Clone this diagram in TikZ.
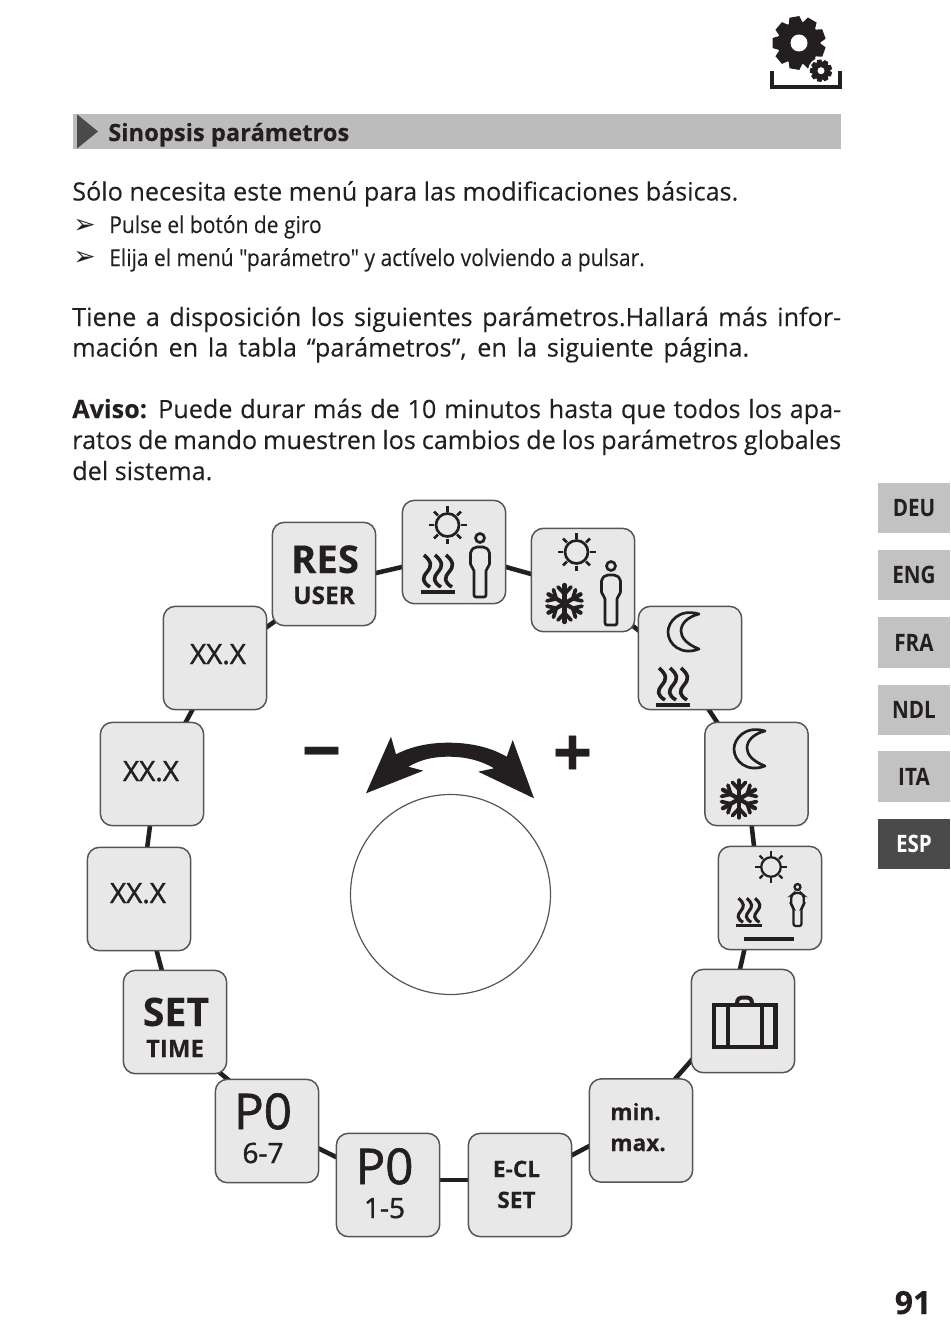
\documentclass[tikz,border=0pt]{standalone}
\usepackage{fontspec}
\usetikzlibrary{backgrounds}
\setmainfont{Open Sans}[FakeBold=0.12]
\newfontfamily\narrowf[FakeStretch=0.9,FakeBold=0.12]{Open Sans}
\newfontfamily\condf[FakeStretch=0.86]{Open Sans}
\newfontfamily\medf[FakeBold=1.3]{Open Sans}
\newfontfamily\symf{DejaVu Sans}
\definecolor{ink}{HTML}{231F20}
\definecolor{boxfill}{HTML}{E8E8E8}
\definecolor{boxline}{HTML}{555555}
\definecolor{tabgrey}{HTML}{C2C2C2}
\definecolor{bargrey}{HTML}{BCBCBC}
\definecolor{tabdark}{HTML}{4A4A4A}
\newcommand\jline[1]{\makebox[576.75pt][s]{#1}}
\def\iw{2pt}
\tikzset{
  box/.style={draw=boxline,line width=1.1pt,fill=boxfill,rounded corners=9pt,minimum size=77.5pt,inner sep=0pt},
  link/.style={draw=ink,line width=3.4pt,shorten <=-3pt,shorten >=-3pt},
  txt/.style={anchor=base west,inner sep=0pt,text=ink},
  blab/.style={anchor=base,inner sep=0pt,text=ink},
  tab/.style={fill=tabgrey,minimum width=54pt,minimum height=38pt,inner sep=0pt,text=ink,font=\condf\fontsize{18pt}{18pt}\selectfont\bfseries},
  pics/sun/.style={code={
    \draw[ink,line width=\iw] (0,0) circle (11.5);
    \foreach \a in {0,45,...,315}{\draw[ink,line width=\iw,rotate=\a] (0,-13.5)--(0,-19);}
  }},
  pics/person/.style={code={
    \draw[ink,line width=\iw] (0,0) circle (4.5);
    \draw[ink,line width=\iw,rounded corners=1.5pt] (-6,59)--(-6,31)--(-9.5,28)--(-9.5,13)--(-5,9)--(5,9)--(9.5,13)--(9.5,28)--(6,31)--(6,59)--cycle;
  }},
  pics/heat/.style={code={
    \foreach \d in {-11,0,11}{
      \draw[ink,line width=\iw*1.35] (\d-3,-17) .. controls (\d+5,-10) and (\d+5,-6) .. (\d,0) .. controls (\d-5,6) and (\d-5,10) .. (\d+3,15);
    }
    \fill[ink] (-17,17.5) rectangle (17,21.5);
  }},
  pics/flake/.style={code={
    \foreach \a in {0,60,...,300}{
      \draw[ink,line width=3.2pt,rotate=\a,line cap=round] (0,0)--(0,-18.5);
      \draw[ink,line width=2.8pt,rotate=\a,line cap=round] (-6.5,-16.5)--(0,-9.5)--(6.5,-16.5);
    }
  }},
  pics/moon/.style={code={
    \draw[ink,line width=\iw,line join=round] (15,-18) .. controls (-5,-24) and (-16,-10) .. (-16,0) .. controls (-16,12) and (-3,24) .. (15,17) .. controls (2,12) and (-3,5) .. (-3,-1) .. controls (-3,-8) and (3,-15) .. (15,-18) -- cycle;
  }},
  pics/gear/.style={code={
    \fill[ink] (0,0) circle (21.5);
    \foreach \a in {0,40,...,320}{
      \fill[ink,rotate=\a+10] (-5,-26.5)--(5,-26.5)--(7.5,-18)--(-7.5,-18)--cycle;
    }
  }}
}
\begin{document}
\begin{tikzpicture}[x=0.75pt,y=-0.75pt]
\useasboundingbox (0,0) rectangle (950,1338);

% corner icon
\pic at (799,43) {gear};
\fill[white] (799,43) circle (8.5);
\fill[white] (821,70.7) circle (13);
\pic[scale=.42] at (821,70.7) {gear};
\fill[white] (821,70.7) circle (3.5);
\draw[ink,line width=3pt] (771.5,71.5)--(771.5,87.5)--(840,87.5)--(840,71.5);

% header
\fill[bargrey] (73,114) rectangle (841,149);
\fill[tabdark] (77,114.3)--(98,131.5)--(77,148.5)--cycle;
\node[txt] (head) at (108,141) {\fontsize{17.8pt}{18pt}\selectfont\bfseries Sinopsis parámetros};

% text
\node[txt] (l1) at (72,200.5) {\fontsize{18.9pt}{20pt}\selectfont Sólo necesita este menú para las modificaciones básicas.};
\node[txt] (b1) at (73,233) {\symf\fontsize{20pt}{20pt}\selectfont ➢};
\node[txt] (l2) at (109,233) {\narrowf\fontsize{17.5pt}{20pt}\selectfont Pulse el botón de giro};
\node[txt] (b2) at (73,265) {\symf\fontsize{20pt}{20pt}\selectfont ➢};
\node[txt] (l3) at (109,266) {\narrowf\fontsize{17.5pt}{20pt}\selectfont Elija el menú "parámetro" y actívelo volviendo a pulsar.};
\node[txt] (l4) at (72,326) {\fontsize{18.9pt}{20pt}\selectfont\jline{Tiene a disposición los siguientes parámetros.Hallará más infor-}};
\node[txt] (l5) at (72,356.5) {\fontsize{18.9pt}{20pt}\selectfont\makebox[507.75pt][s]{mación en la tabla “parámetros”, en la siguiente página.}};
\node[txt] (l6) at (72,418) {\fontsize{18.9pt}{20pt}\selectfont\jline{\textbf{Aviso:} Puede durar más de 10 minutos hasta que todos los apa-}};
\node[txt] (l7) at (72,449) {\fontsize{18.9pt}{20pt}\selectfont\jline{ratos de mando muestren los cambios de los parámetros globales}};
\node[txt] (l8) at (72,480) {\fontsize{18.9pt}{20pt}\selectfont del sistema.};

% side tabs
\node[tab] (deu) at (914,508) {DEU};
\node[tab] (eng) at (914,575) {ENG};
\node[tab] (fra) at (914,642.5) {FRA};
\node[tab] (ndl) at (914,710) {NDL};
\node[tab] (ita) at (914,776.5) {ITA};
\node[tab,fill=tabdark,text=white] (esp) at (914,844) {ESP};

% boxes
\node[box] (n1) at (324,574) {};
\node[box] (n2) at (454,552) {};
\node[box] (n3) at (583,580) {};
\node[box] (n4) at (690,658) {};
\node[box] (n5) at (756.5,774) {};
\node[box] (n6) at (770,898) {};
\node[box] (n7) at (743,1021) {};
\node[box] (n8) at (641,1130.5) {};
\node[box] (n9) at (520,1185) {};
\node[box] (n10) at (388,1185) {};
\node[box] (n11) at (267,1131) {};
\node[box] (n12) at (175,1022) {};
\node[box] (n13) at (139,899) {};
\node[box] (n14) at (152,774) {};
\node[box] (n15) at (215,658) {};

\begin{pgfonlayer}{background}
\foreach \a/\ax/\ay/\b/\bx/\by in {
  n1/52/-1/n2/-52/15,
  n2/52/15/n3/-52/-6,
  n3/48.7/45/n4/-52/-28,
  n4/19/52/n5/-39.5/-52,
  n5/-4.8/52/n6/-16/-52,
  n6/-25.7/52/n7/-3/-52,
  n7/-51.3/39/n8/34/-51.5,
  n8/-51.7/15.5/n9/52.3/-30,
  n9/-51.7/-5/n10/52/-5,
  n10/-51.3/-27.7/n11/51.3/17.3,
  n11/-39.3/-51.7/n12/44.3/50.3,
  n12/-13.3/-52/n13/17.7/52,
  n13/8.3/-52.3/n14/-2/51.7,
  n14/34/-52.3/n15/-22.7/52,
  n15/52.3/-31.3/n1/-48.3/46.7}{
  \draw[link] ([shift={(\ax,\ay)}]\a.center) -- ([shift={(\bx,\by)}]\b.center);
}
\end{pgfonlayer}

% box labels
\node[blab] (t1a) at (325,573) {\fontsize{28.8pt}{30pt}\selectfont\bfseries RES};
\node[blab] (t1b) at (324,604) {\fontsize{18.3pt}{20pt}\selectfont\bfseries USER};
\node[blab] (t12a) at (176,1026) {\fontsize{29.5pt}{30pt}\selectfont\bfseries SET};
\node[blab] (t12b) at (175,1057) {\fontsize{18pt}{20pt}\selectfont\bfseries TIME};
\node[blab] (t11a) at (263,1129) {\medf\fontsize{37pt}{37pt}\selectfont P0};
\node[blab] (t11b) at (263,1163) {\medf\fontsize{21pt}{21pt}\selectfont 6-7};
\node[blab] (t10a) at (384.5,1184) {\medf\fontsize{37pt}{37pt}\selectfont P0};
\node[blab] (t10b) at (384.5,1218) {\medf\fontsize{21pt}{21pt}\selectfont 1-5};
\node[blab] (t9a) at (516.5,1177) {\fontsize{17pt}{17pt}\selectfont\bfseries E-CL};
\node[blab] (t9b) at (516.5,1208) {\fontsize{17pt}{17pt}\selectfont\bfseries SET};
\node[txt] (t8a) at (610,1120) {\fontsize{17pt}{17pt}\selectfont\bfseries min.};
\node[txt] (t8b) at (610,1151) {\fontsize{17pt}{17pt}\selectfont\bfseries max.};
\node[blab] (t13) at (138,903) {\medf\fontsize{21pt}{21pt}\selectfont XX.X};
\node[blab] (t14) at (151,781) {\medf\fontsize{21pt}{21pt}\selectfont XX.X};
\node[blab] (t15) at (218,664) {\medf\fontsize{21pt}{21pt}\selectfont XX.X};

% icons
\pic at (447.5,525) {sun};
\pic at (480,538) {person};
\pic at (438,572) {heat};
\pic at (576.5,552) {sun};
\pic at (611,566) {person};
\pic at (564.5,603.5) {flake};
\pic at (684,632) {moon};
\pic at (673,685) {heat};
\pic at (750,749) {moon};
\pic at (739,799) {flake};
\def\iw{1.7pt}
\pic[scale=.85] at (771,867) {sun};
\pic[scale=.66] at (797.5,887) {person};
\pic[scale=.75] at (749,911) {heat};
\fill[ink] (743.7,936.8) rectangle (794,940.6);

% suitcase
\draw[ink,line width=3.2pt] (714,1005) rectangle (775.5,1047);
\draw[ink,line width=3.6pt] (728,1005)--(728,1047);
\draw[ink,line width=3.6pt] (762,1005)--(762,1047);
\draw[ink,line width=3pt] (737,1004) .. controls (737,998.5) and (739,997.5) .. (744.5,997.5) .. controls (750,997.5) and (752,998.5) .. (752,1004);

% dial and arrows
\draw[boxline,line width=0.9pt] (450.5,894.5) circle (100);
\fill[ink] (366,793.3)--(391,736.7)--(396,754.3) .. controls (412,746) and (430,742.7) .. (448.3,742.7) .. controls (470,742.7) and (490,747) .. (506.7,756.7) --(512.7,740)--(534,798.3)--(478.3,771.7)--(494,768.3) .. controls (480,760) and (465,756.7) .. (448.3,756.7) .. controls (432,756.7) and (420,760) .. (408.3,766.7) --(423.3,770.7)--cycle;
\node[blab] (minus) at (321.5,775) {\fontsize{52pt}{52pt}\selectfont\bfseries −};
\node[blab] (plus) at (572.5,777) {\fontsize{52pt}{52pt}\selectfont\bfseries +};

% page number
\node[blab] (page) at (913,1314) {\fontsize{24pt}{24pt}\selectfont\bfseries 91};
\end{tikzpicture}
\end{document}
